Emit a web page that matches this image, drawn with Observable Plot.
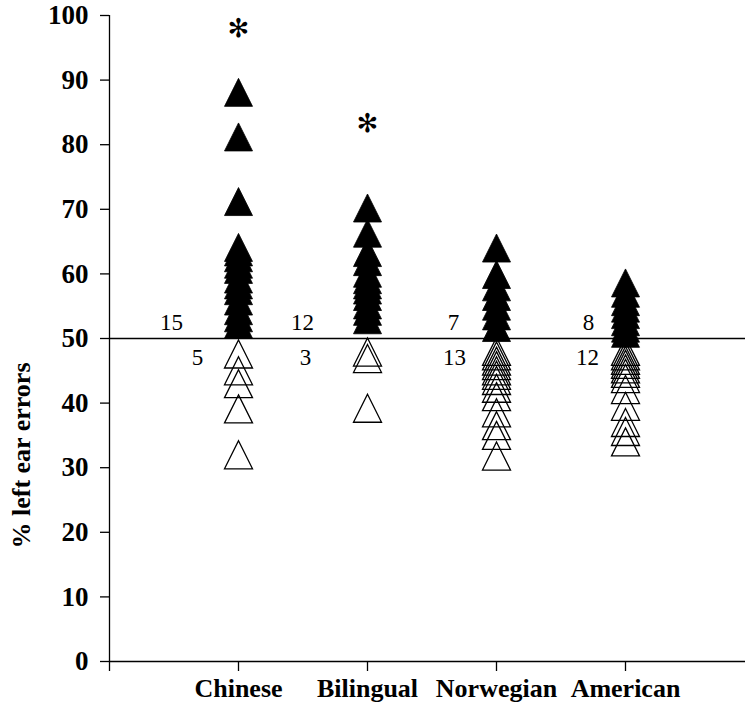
<!DOCTYPE html>
<html>
<head>
<meta charset="utf-8">
<script src="https://cdn.jsdelivr.net/npm/d3@7"></script>
<script src="https://cdn.jsdelivr.net/npm/@observablehq/plot@0.6"></script>
<style>
  html, body { margin: 0; padding: 0; background: #fff; }
  #chart { width: 745px; height: 707px; }
</style>
</head>
<body>
<div id="chart"></div>
<script>
// ---- data ----
const categories = ["Chinese", "Bilingual", "Norwegian", "American"];
const chineseAbove   = [88.1, 81.2, 71.2, 64.1, 63.4, 62.5, 61.5, 60.7, 59.2, 58.3, 57.4, 55.8, 54.3, 53.2, 52.2];
const chineseBelow   = [47.6, 45.0, 43.0, 39.1, 32.0];
const bilingualAbove = [70.2, 66.3, 63.3, 61.9, 60.1, 59.1, 58.3, 57.5, 56.5, 55.2, 54.2, 52.9];
const bilingualBelow = [47.9, 46.9, 39.2];
const norwegianAbove = [64.0, 59.9, 58.0, 56.5, 55.0, 53.5, 51.7];
const norwegianBelow = [48.0, 47.3, 46.5, 45.8, 45.0, 44.3, 43.5, 42.3, 41.0, 38.5, 36.5, 35.0, 31.8];
const americanAbove  = [58.6, 57.0, 55.7, 54.7, 53.7, 52.6, 51.6, 50.8];
const americanBelow  = [48.0, 47.3, 46.6, 46.0, 45.3, 44.6, 43.8, 42.1, 39.5, 37.0, 35.6, 34.0];
const asteriskGroups = ["Chinese", "Bilingual"];
const asteriskValues = [98, 83.2];
const countsAbove = [15, 12, 7, 8];
const countsBelow = [5, 3, 13, 12];
const referenceValue = 50;
const yTicks = [0, 10, 20, 30, 40, 50, 60, 70, 80, 90, 100];
const yLabel = "% left ear errors";

// ---- build tables ----
const aboveSets = [chineseAbove, bilingualAbove, norwegianAbove, americanAbove];
const belowSets = [chineseBelow, bilingualBelow, norwegianBelow, americanBelow];
const pos = g => categories.indexOf(g) + 1;
const filled = aboveSets.flatMap((vals, i) => vals.map(v => ({x: i + 1, y: v})));
const open = belowSets.flatMap((vals, i) => vals.map(v => ({x: i + 1, y: v})));
const stars = asteriskGroups.map((g, i) => ({x: pos(g), y: asteriskValues[i]}));

// horizontal nudges (pixels) of the count labels, left of each column
const labelDxAbove = [-67, -65, -43, -37];
const labelDxBelow = [-41, -62, -42, -38];

const countMarks = [];
countsAbove.forEach((c, i) => countMarks.push(
  Plot.text([{x: i + 1, y: referenceValue, t: String(c)}], {x: "x", y: "y", text: "t", fontSize: 23, dx: labelDxAbove[i], dy: -16})
));
countsBelow.forEach((c, i) => countMarks.push(
  Plot.text([{x: i + 1, y: referenceValue, t: String(c)}], {x: "x", y: "y", text: "t", fontSize: 23, dx: labelDxBelow[i], dy: 19})
));

// custom triangle, equal width and height, centered on its box
const tri = {
  draw(context, size) {
    const r = Math.sqrt(size / Math.PI);
    context.moveTo(0, -r);
    context.lineTo(r, r);
    context.lineTo(-r, r);
    context.closePath();
  }
};

const font = "'Liberation Serif', 'Times New Roman', serif";

const chart = Plot.plot({
  width: 745,
  height: 707,
  marginLeft: 109,
  marginRight: 0,
  marginTop: 15,
  marginBottom: 46,
  style: {fontFamily: font, fontSize: "22px", color: "#000", background: "#fff", overflow: "visible"},
  x: {type: "linear", domain: [0, 636 / 129], axis: null},
  y: {domain: [0, 100], axis: null},
  marks: [
    Plot.ruleY([referenceValue], {stroke: "#000", strokeWidth: 1.3}),
    Plot.dot(open, {x: "x", y: "y", symbol: tri, r: 14, fill: "none", stroke: "#000", strokeWidth: 1.3}),
    Plot.dot(filled, {x: "x", y: "y", symbol: tri, r: 14, fill: "#000", stroke: "#000", strokeWidth: 0.8}),
    Plot.text(stars, {x: "x", y: "y", text: () => "✻", fontFamily: "DejaVu Sans", fontSize: 26, fill: "#000", fontWeight: "bold"}),
    ...countMarks,
    Plot.axisY({ticks: yTicks, tickSize: 9, tickPadding: 12, fontWeight: "bold", fontSize: 27, strokeWidth: 1.3, label: null}),
    Plot.axisX({ticks: [0, 1, 2, 3, 4], tickSize: 10, tickPadding: 7, fontWeight: "bold", fontSize: 26, strokeWidth: 1.3,
      tickFormat: i => (i >= 1 ? categories[i - 1] : ""), label: null}),
    Plot.ruleX([0], {stroke: "#000", strokeWidth: 1.3}),
    Plot.ruleY([0], {stroke: "#000", strokeWidth: 1.3}),
    Plot.text([yLabel], {frameAnchor: "left", text: d => d, rotate: -90, textAnchor: "middle", dx: -88, dy: 117, fontWeight: "bold", fontSize: 26})
  ]
});

document.getElementById("chart").appendChild(chart);
</script>
</body>
</html>
